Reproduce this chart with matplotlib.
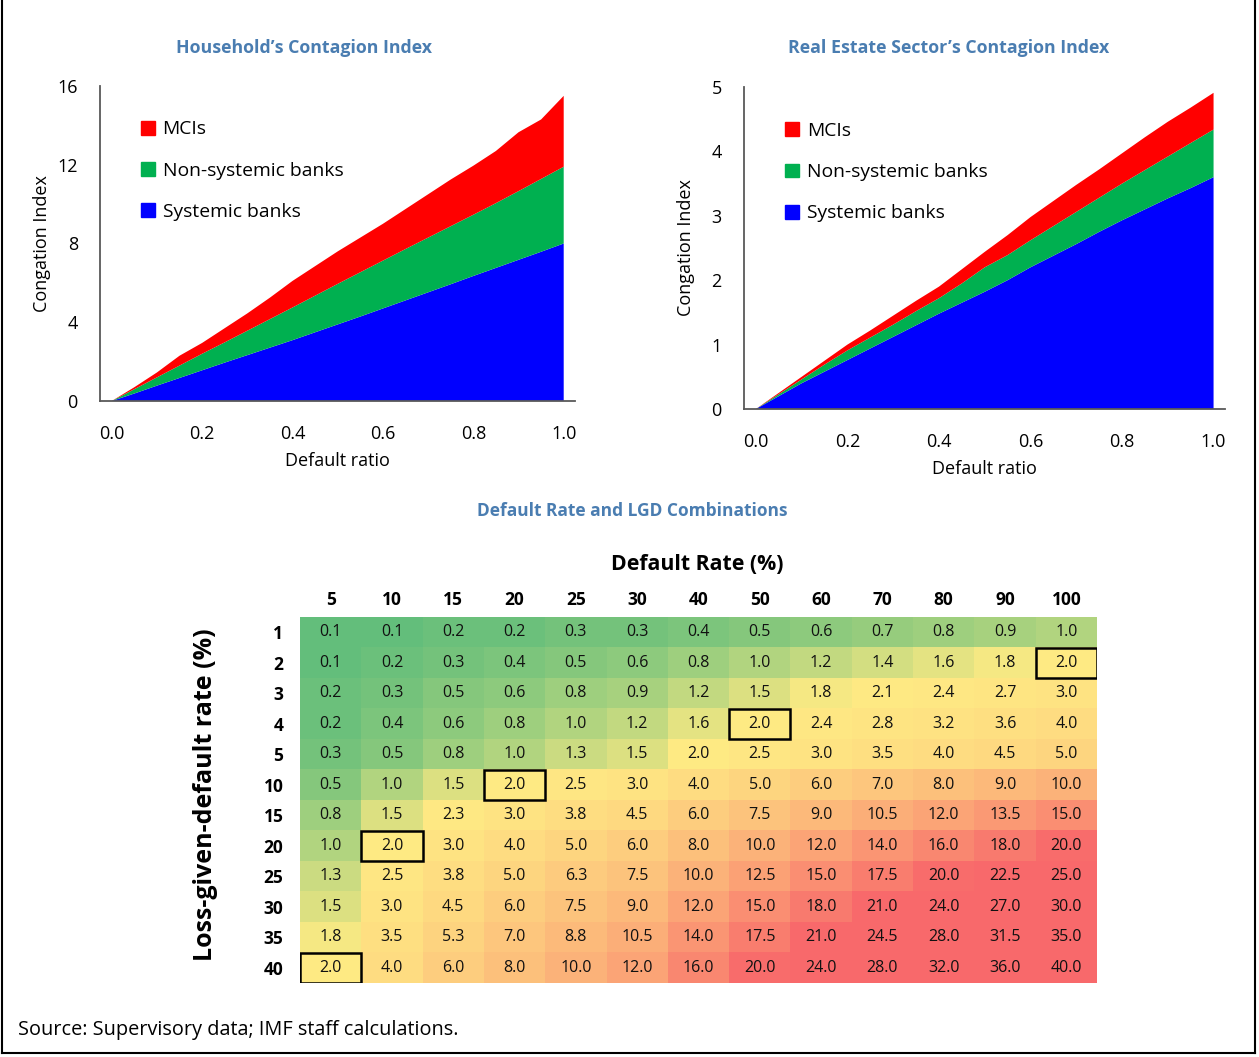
import numpy as np
import matplotlib
matplotlib.use("Agg")
import matplotlib.pyplot as plt
from matplotlib.colors import LinearSegmentedColormap, TwoSlopeNorm
from matplotlib.patches import Patch, Rectangle
from matplotlib.lines import Line2D

plt.rcParams["font.family"] = ["Open Sans", "Noto Sans", "DejaVu Sans"]

W, H = 1259, 1057

# default ratio (x) shared by both area charts
default_ratio = [0.0, 0.05, 0.1, 0.15, 0.2, 0.25, 0.3, 0.35, 0.4, 0.45, 0.5,
                 0.55, 0.6, 0.65, 0.7, 0.75, 0.8, 0.85, 0.9, 0.95, 1.0]

# household contagion index, per layer
hh_systemic = [0.0, 0.38, 0.78, 1.17, 1.56, 1.95, 2.33, 2.71, 3.09, 3.49, 3.89,
               4.29, 4.70, 5.11, 5.52, 5.93, 6.35, 6.76, 7.17, 7.58, 8.00]
hh_nonsystemic = [0.0, 0.22, 0.42, 0.63, 0.84, 1.03, 1.24, 1.45, 1.66, 1.86, 2.06,
                  2.25, 2.43, 2.61, 2.78, 2.95, 3.11, 3.29, 3.49, 3.70, 3.90]
hh_mcis = [0.0, 0.10, 0.25, 0.50, 0.55, 0.72, 0.88, 1.09, 1.35, 1.50, 1.65,
           1.76, 1.87, 2.03, 2.20, 2.37, 2.49, 2.65, 2.99, 3.02, 3.60]

# real estate sector contagion index, per layer
re_systemic = [0.0, 0.20, 0.40, 0.58, 0.76, 0.94, 1.12, 1.30, 1.48, 1.65, 1.82,
               2.00, 2.20, 2.38, 2.56, 2.75, 2.93, 3.10, 3.27, 3.43, 3.60]
re_nonsystemic = [0.0, 0.03, 0.06, 0.11, 0.15, 0.17, 0.19, 0.22, 0.24, 0.30, 0.38,
                  0.39, 0.42, 0.46, 0.50, 0.53, 0.57, 0.61, 0.65, 0.70, 0.74]
re_mcis = [0.0, 0.02, 0.04, 0.06, 0.09, 0.11, 0.14, 0.16, 0.18, 0.22, 0.24,
           0.31, 0.36, 0.39, 0.42, 0.44, 0.47, 0.51, 0.54, 0.55, 0.57]

# heatmap
default_rates = [5, 10, 15, 20, 25, 30, 40, 50, 60, 70, 80, 90, 100]
lgd_rates = [1, 2, 3, 4, 5, 10, 15, 20, 25, 30, 35, 40]
losses = [
    [0.1, 0.1, 0.2, 0.2, 0.3, 0.3, 0.4, 0.5, 0.6, 0.7, 0.8, 0.9, 1.0],
    [0.1, 0.2, 0.3, 0.4, 0.5, 0.6, 0.8, 1.0, 1.2, 1.4, 1.6, 1.8, 2.0],
    [0.2, 0.3, 0.5, 0.6, 0.8, 0.9, 1.2, 1.5, 1.8, 2.1, 2.4, 2.7, 3.0],
    [0.2, 0.4, 0.6, 0.8, 1.0, 1.2, 1.6, 2.0, 2.4, 2.8, 3.2, 3.6, 4.0],
    [0.3, 0.5, 0.8, 1.0, 1.3, 1.5, 2.0, 2.5, 3.0, 3.5, 4.0, 4.5, 5.0],
    [0.5, 1.0, 1.5, 2.0, 2.5, 3.0, 4.0, 5.0, 6.0, 7.0, 8.0, 9.0, 10.0],
    [0.8, 1.5, 2.3, 3.0, 3.8, 4.5, 6.0, 7.5, 9.0, 10.5, 12.0, 13.5, 15.0],
    [1.0, 2.0, 3.0, 4.0, 5.0, 6.0, 8.0, 10.0, 12.0, 14.0, 16.0, 18.0, 20.0],
    [1.3, 2.5, 3.8, 5.0, 6.3, 7.5, 10.0, 12.5, 15.0, 17.5, 20.0, 22.5, 25.0],
    [1.5, 3.0, 4.5, 6.0, 7.5, 9.0, 12.0, 15.0, 18.0, 21.0, 24.0, 27.0, 30.0],
    [1.8, 3.5, 5.3, 7.0, 8.8, 10.5, 14.0, 17.5, 21.0, 24.5, 28.0, 31.5, 35.0],
    [2.0, 4.0, 6.0, 8.0, 10.0, 12.0, 16.0, 20.0, 24.0, 28.0, 32.0, 36.0, 40.0],
]
# boxed cells as (lgd, default rate)
boxed = [(2, 100), (4, 50), (10, 20), (20, 10), (40, 5)]

series_names = ["Systemic banks", "Non-systemic banks", "MCIs"]
series_colors = ["#0000FF", "#00B050", "#FF0000"]
title_color = "#4A7DB1"
title_font = ["Liberation Sans Narrow", "Open Sans", "DejaVu Sans"]


def fx(px):
    return px / W


def fy(py):
    return 1 - py / H


def axes_box(left, top, right, bottom):
    return [fx(left), fy(bottom), fx(right) - fx(left), fy(top) - fy(bottom)]


def area_chart(ax, layers, ymax, step, ylab_x, xlab_y):
    ax.stackplot(default_ratio, *layers, colors=series_colors, linewidth=0)
    ax.set_xlim(-0.026, 1.025)
    ax.set_ylim(0, ymax)
    ax.set_xticks([0, 0.2, 0.4, 0.6, 0.8, 1.0])
    ax.set_xticklabels(["0.0", "0.2", "0.4", "0.6", "0.8", "1.0"])
    ax.set_yticks(np.arange(0, ymax + 0.01, step))
    for side in ["top", "right"]:
        ax.spines[side].set_visible(False)
    for side in ["left", "bottom"]:
        ax.spines[side].set_color("#595959")
        ax.spines[side].set_linewidth(1.3)
    ax.tick_params(length=0, labelsize=13, colors="black")
    ax.tick_params(axis="x", pad=17)
    ax.tick_params(axis="y", pad=16)
    ax.set_xlabel("Default ratio", fontsize=13)
    ax.set_ylabel("Congation Index", fontsize=13)
    ax.yaxis.set_label_coords(ylab_x, 0.5)
    ax.xaxis.set_label_coords(0.5, xlab_y)
    handles = [Patch(color=c, label=n) for c, n in zip(series_colors, series_names)][::-1]
    ax.legend(handles=handles, loc="upper left", bbox_to_anchor=(0.07, 0.915),
              frameon=False, fontsize=13.9, handlelength=0.72, handleheight=0.72,
              handletextpad=0.4, labelspacing=1.2, borderaxespad=0)


fig = plt.figure(figsize=(W / 100, H / 100), dpi=100)

ax1 = fig.add_axes(axes_box(100, 86, 575, 401))
area_chart(ax1, [hh_systemic, hh_nonsystemic, hh_mcis], 16, 4, -0.103, -0.162)
fig.text(fx(304), fy(48), "Household\u2019s Contagion Index", ha="center", va="center",
         fontsize=12.8, fontweight="bold", color=title_color, family=title_font)

ax2 = fig.add_axes(axes_box(744, 87, 1225, 409))
area_chart(ax2, [re_systemic, re_nonsystemic, re_mcis], 5, 1, -0.102, -0.158)
fig.text(fx(949), fy(48), "Real Estate Sector\u2019s Contagion Index", ha="center", va="center",
         fontsize=12.8, fontweight="bold", color=title_color, family=title_font)

# heatmap
fig.text(fx(632), fy(511), "Default Rate and LGD Combinations", ha="center", va="center",
         fontsize=12.5, fontweight="bold", color=title_color, family=title_font)

ax3 = fig.add_axes(axes_box(300, 617, 1097, 983))
vals = np.array(losses)
cmap = LinearSegmentedColormap.from_list("gyr", ["#63BE7B", "#FFEB84", "#F8696B"])
norm = TwoSlopeNorm(vmin=0.1, vcenter=1.9, vmax=20.5)
ax3.imshow(vals, cmap=cmap, norm=norm, aspect="auto", interpolation="nearest")
nr, nc = vals.shape
for i in range(nr):
    for j in range(nc):
        ax3.text(j, i, f"{vals[i, j]:.1f}", ha="center", va="center", fontsize=11.5, color="#111111")
for lgd, dr in boxed:
    i, j = lgd_rates.index(lgd), default_rates.index(dr)
    ax3.add_patch(Rectangle((j - 0.5, i - 0.5), 1, 1, fill=False,
                            edgecolor="black", linewidth=1.8))
ax3.set_xticks(range(nc))
ax3.set_xticklabels([str(d) for d in default_rates], fontsize=12.5, fontweight="bold")
ax3.set_yticks(range(nr))
ax3.set_yticklabels([str(l) for l in lgd_rates], fontsize=12.5, fontweight="bold")
ax3.xaxis.tick_top()
ax3.tick_params(length=0)
ax3.tick_params(axis="x", pad=6)
ax3.tick_params(axis="y", pad=12)
for s in ax3.spines.values():
    s.set_visible(False)
fig.text(fx(697), fy(565), "Default Rate (%)", ha="center", va="center",
         fontsize=15.3, fontweight="bold")
fig.text(fx(205), fy(795), "Loss-given-default rate (%)", ha="center", va="center",
         rotation=90, fontsize=18, fontweight="bold")

fig.text(fx(18), fy(1030), "Source: Supervisory data; IMF staff calculations.",
         ha="left", va="center", fontsize=14.3)

# outer frame
for xs, ys in [([2, 2], [0, 1053]), ([1255, 1255], [0, 1053]), ([2, 1255], [1053, 1053])]:
    fig.add_artist(Line2D([fx(x) for x in xs], [fy(y) for y in ys], color="black", linewidth=1.5))

fig.savefig("out.png", dpi=100)
